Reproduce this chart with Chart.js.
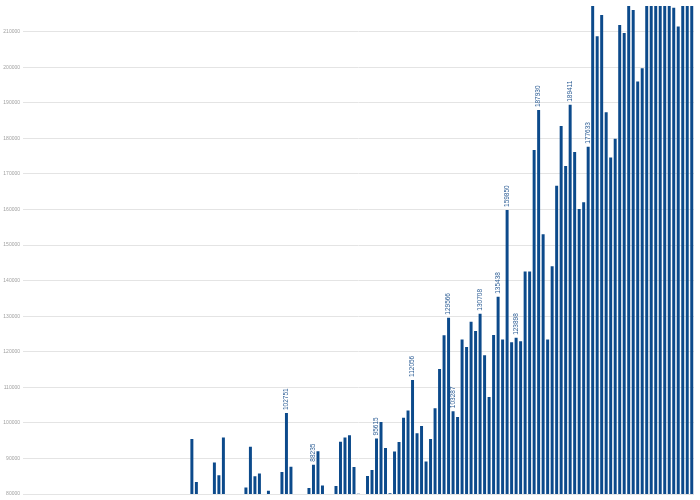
<!DOCTYPE html>
<html>
<head>
<meta charset="utf-8">
<script src="https://cdn.jsdelivr.net/npm/chart.js@4"></script>
<style>
  html, body { margin: 0; padding: 0; background: #fff; }
  #wrap { width: 700px; height: 500px; }
</style>
</head>
<body>
<div id="wrap"><canvas id="barChart"></canvas></div>
<script>
// values under 80000 are below the visible window
var hiddenValues = [62000, 64500, 61000, 66000, 63500, 67000, 65000, 68500, 66500, 70000,
    67500, 69000, 71000, 68000, 72500, 70500, 69500, 73000, 71500, 74000,
    72000, 70000, 73500, 75000, 72500, 74500, 76000, 73000, 75500, 77000,
    74000, 76500, 78000, 75000, 77500, 78500];

var visibleValues = [79100, 95440, 83400, 77000, 78500, 79500, 88870, 85270, 95900, 79300,
    76000, 77500, 78800, 81850, 93300, 84990, 85730, 78000, 80920, 77000,
    78600, 86180, 102751, 87670, 78000, 76500, 79000, 81660, 88235, 92010,
    82400, 79450, 79630, 82220, 94690, 95900, 96540, 87570, 80090, 78000,
    85090, 86760, 95615, 100230, 92930, 80180, 91920, 94600, 101430, 103470,
    112056, 97080, 99120, 89150, 95430, 104110, 115110, 124620, 129566, 103287,
    101620, 123430, 121300, 128410, 125820, 130708, 118990, 107250, 124710, 135438,
    123430, 159850, 122680, 123898, 122960, 142550, 142550, 176730, 187930, 153000,
    123430, 144020, 166680, 183470, 172210, 189411, 176170, 160100, 162040, 177633,
    225000, 208700, 214700, 187340, 174600, 179870, 211830, 209610, 222000, 216090,
    196000, 199700, 224000, 226000, 223000, 228000, 225000, 221000, 216730, 211460,
    224000, 227000, 229000];

var values = hiddenValues.concat(visibleValues);
var labels = values.map(function (v, i) { return "P" + (i + 1); });

// bars that carry a value label
var labelledValues = [102751, 88235, 95615, 112056, 129566, 103287, 130708,
    135438, 159850, 123898, 187930, 189411, 177633];

var yTicks = [80000, 90000, 100000, 110000, 120000, 130000, 140000,
    150000, 160000, 170000, 180000, 190000, 200000, 210000];

var barLabels = {
    id: 'barLabels',
    afterDatasetsDraw: function (chart) {
        var ctx = chart.ctx;
        var meta = chart.getDatasetMeta(0);
        ctx.save();
        ctx.fillStyle = '#2b5c94';
        ctx.font = '6.5px "Liberation Sans", Arial, sans-serif';
        ctx.textAlign = 'left';
        ctx.textBaseline = 'middle';
        meta.data.forEach(function (bar, i) {
            var v = values[i];
            if (labelledValues.indexOf(v) < 0) return;
            ctx.save();
            ctx.translate(bar.x, bar.y - 3);
            ctx.rotate(-Math.PI / 2);
            ctx.fillText(String(v), 0, 0);
            ctx.restore();
        });
        ctx.restore();
    }
};

var chartElement = document.getElementById("barChart").getContext('2d');
var chartObject = new Chart(chartElement, {
    type: 'bar',
    data: {
        labels: labels,
        datasets: [{
            data: values,
            backgroundColor: '#0c4a8b',
            categoryPercentage: 1,
            barPercentage: 0.66
        }]
    },
    options: {
        responsive: true,
        maintainAspectRatio: false,
        animation: false,
        layout: { padding: { top: -6, bottom: 3, right: 6, left: 0 } },
        plugins: { legend: { display: false }, tooltip: { enabled: false } },
        scales: {
            x: { display: false },
            y: {
                min: 80000,
                max: 217200,
                afterBuildTicks: function (axis) {
                    axis.ticks = yTicks.map(function (v) { return { value: v }; });
                },
                afterFit: function (axis) { axis.width = 23; },
                border: { display: false },
                grid: { color: '#e4e4e4', drawTicks: false },
                ticks: {
                    color: '#a0a0a0',
                    font: { size: 5 },
                    padding: 3,
                    callback: function (v) { return String(v); }
                }
            }
        }
    },
    plugins: [barLabels]
});
</script>
</body>
</html>
